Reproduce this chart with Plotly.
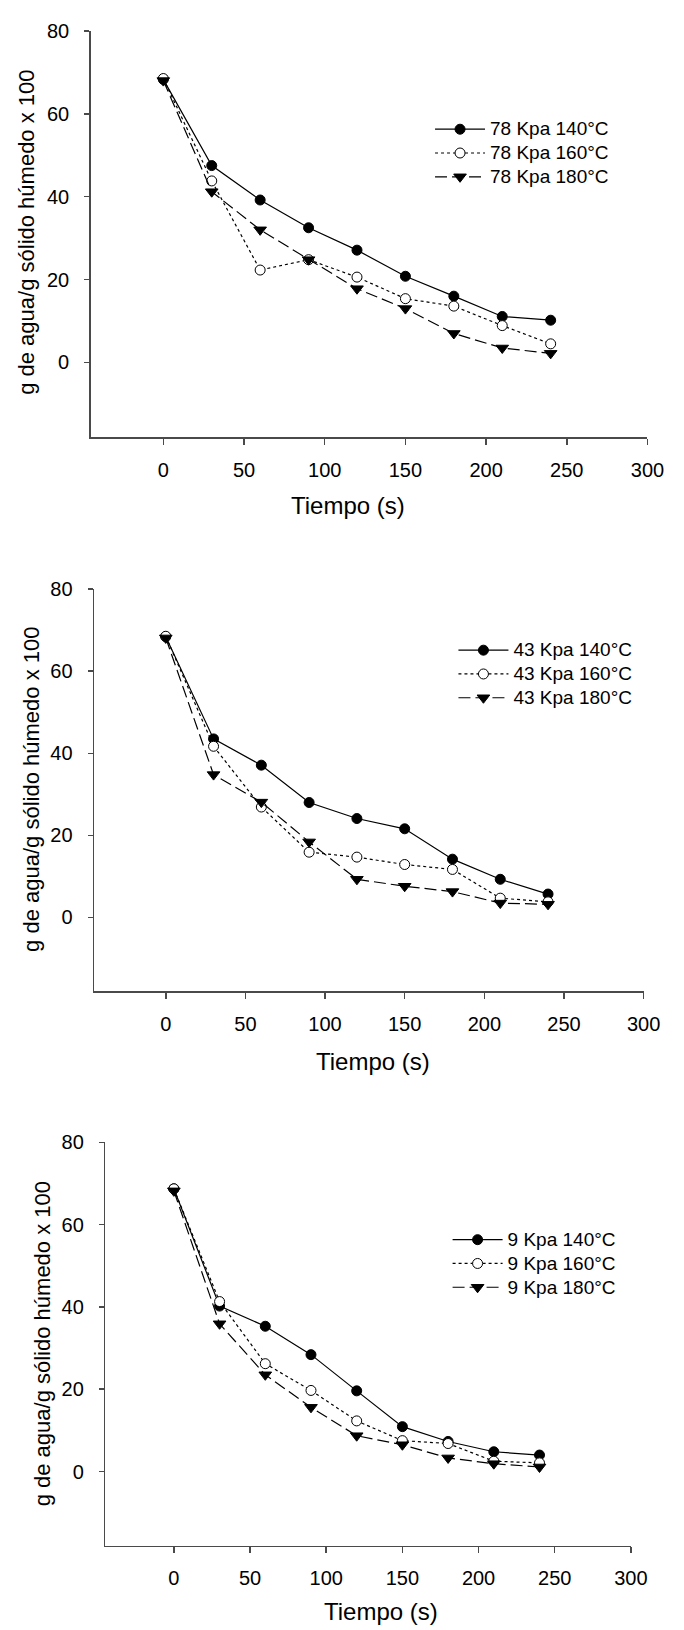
import plotly.graph_objects as go

# ---------------- data ----------------
tiempo = [0, 30, 60, 90, 120, 150, 180, 210, 240]

p78_140 = [68.3, 47.5, 39.2, 32.5, 27.1, 20.8, 16.0, 11.1, 10.2]
p78_160 = [68.5, 43.8, 22.3, 24.8, 20.6, 15.4, 13.6, 8.9, 4.5]
p78_180 = [68.0, 41.2, 32.0, 24.8, 17.8, 13.0, 7.0, 3.5, 2.2]

p43_140 = [68.4, 43.5, 37.1, 28.0, 24.1, 21.6, 14.2, 9.3, 5.7]
p43_160 = [68.5, 41.7, 26.9, 15.9, 14.7, 12.9, 11.7, 4.7, 3.8]
p43_180 = [68.1, 34.8, 28.1, 18.4, 9.3, 7.6, 6.3, 3.5, 3.2]

p9_140 = [68.7, 40.2, 35.3, 28.4, 19.6, 10.9, 7.3, 4.8, 4.0]
p9_160 = [68.7, 41.3, 26.2, 19.7, 12.3, 7.5, 6.8, 2.5, 2.1]
p9_180 = [68.2, 35.9, 23.5, 15.6, 8.7, 6.5, 3.3, 1.9, 1.1]

presiones = ["78", "43", "9"]
temperaturas = ["140°C", "160°C", "180°C"]
series = [[p78_140, p78_160, p78_180],
          [p43_140, p43_160, p43_180],
          [p9_140, p9_160, p9_180]]

x_ticks = [0, 50, 100, 150, 200, 250, 300]
y_ticks = [0, 20, 40, 60, 80]
x_title = "Tiempo (s)"
y_title = "g de agua/g sólido húmedo x 100"

# ---------------- layout helpers ----------------
W, H = 684, 1630
FONT = "Liberation Sans, Arial, sans-serif"

def px_x(p):
    return p / W

def px_y(p):
    return 1 - p / H

# pixel boxes of each panel: (left, right, top, bottom)
boxes = [(93, 664, 20, 429), (96.5, 660, 582, 987), (108, 647, 1139, 1545)]
legend_pos = [(441, 102), (465, 626.5), (459, 1220)]
xtitle_pos = [(357, 498), (382, 1058), (391, 1611)]
ytitle_pos = [(27, 223), (33, 784), (44.5, 1342)]

styles = [
    dict(line=dict(color="black", width=1.2, dash="solid"),
         marker=dict(symbol="circle", size=10, color="black",
                     line=dict(color="black", width=1))),
    dict(line=dict(color="black", width=1.2, dash="dot"),
         marker=dict(symbol="circle", size=10, color="white",
                     line=dict(color="black", width=1))),
    dict(line=dict(color="black", width=1.2, dash="12px,5px"),
         marker=dict(symbol="triangle-down", size=11, color="black",
                     line=dict(color="black", width=1))),
]

fig = go.Figure()
annotations = []
layout = {}

for i in range(3):
    suffix = "" if i == 0 else str(i + 1)
    leg = "legend" + suffix
    for j in range(3):
        label = f"{presiones[i]} Kpa {temperaturas[j]}"
        fig.add_trace(go.Scatter(
            x=tiempo, y=series[i][j],
            mode="lines+markers",
            name=f'<span style="font-size:19px">{label}</span>',
            xaxis="x" + suffix, yaxis="y" + suffix,
            legend=leg,
            cliponaxis=False,
            **styles[j]))
    l, r, t, b = boxes[i]
    axis_common = dict(
        showline=True, linecolor="#4a4a4a", linewidth=1.5,
        ticks="outside", ticklen=6, tickwidth=1.5, tickcolor="#4a4a4a",
        showgrid=False, zeroline=False,
        tickfont=dict(family=FONT, size=20, color="black"),
        mirror=False,
    )
    layout["xaxis" + suffix] = dict(
        axis_common, domain=[px_x(l), px_x(r)], range=[-45, 300],
        tickvals=x_ticks, anchor="y" + suffix, ticklabelstandoff=8)
    layout["yaxis" + suffix] = dict(
        axis_common, domain=[px_y(b), px_y(t)], range=[-18, 80],
        tickvals=y_ticks, anchor="x" + suffix, ticklen=5,
        ticklabelstandoff=11)
    lx, ly = legend_pos[i]
    layout[leg] = dict(
        x=px_x(lx), y=px_y(ly), xref="paper", yref="paper",
        xanchor="left", yanchor="top", bgcolor="rgba(0,0,0,0)",
        font=dict(family=FONT, size=16, color="black"),
        itemwidth=50, tracegroupgap=0)
    tx, ty = xtitle_pos[i]
    annotations.append(dict(
        text=x_title, x=px_x(tx), y=px_y(ty), xref="paper", yref="paper",
        showarrow=False, xanchor="center", yanchor="middle",
        font=dict(family=FONT, size=24, color="black")))
    yx, yy = ytitle_pos[i]
    annotations.append(dict(
        text=y_title, x=px_x(yx), y=px_y(yy), xref="paper", yref="paper",
        showarrow=False, xanchor="center", yanchor="middle", textangle=-90,
        font=dict(family=FONT, size=22, color="black")))

fig.update_layout(
    width=W, height=H,
    margin=dict(l=0, r=0, t=0, b=0),
    paper_bgcolor="white", plot_bgcolor="white",
    showlegend=True,
    hovermode=False,
    annotations=annotations,
    **layout)

fig.write_html(
    "out.html",
    config={"displayModeBar": False, "staticPlot": True},
    post_script="document.body.style.margin='0px';"
                "document.body.style.overflow='hidden';")
